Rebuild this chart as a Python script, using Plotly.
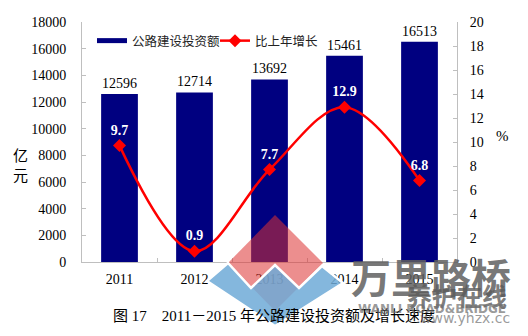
import plotly.graph_objects as go

years = ["2011", "2012", "2013", "2014", "2015"]
investment = [12596, 12714, 13692, 15461, 16513]
growth = [9.7, 0.9, 7.7, 12.9, 6.8]
growth_labels = ["9.7", "0.9", "7.7", "12.9", "6.8"]

W, H = 528, 336
L, R, T, B = 82, 457, 22, 262

def px(x):
    return (x - L) / (R - L)

def py(y):
    return (B - y) / (B - T)

SERIF = "Liberation Serif, Times New Roman, Noto Sans CJK SC"
CJK = "Noto Sans CJK SC, Liberation Serif"
AX = "#BFBFBF"

fig = go.Figure()
fig.add_trace(go.Bar(
    x=years, y=investment, name="公路建设投资额", showlegend=False,
    marker=dict(color="#000080", line=dict(width=0)),
    text=[str(v) for v in investment], textposition="outside",
    textfont=dict(family=SERIF, size=14, color="black"),
    cliponaxis=False, yaxis="y",
))
# legend proxy for bars (drawn as a thick line like the original)
fig.add_trace(go.Scatter(
    x=[None], y=[None], mode="lines", name="公路建设投资额", legend="legend",
    line=dict(color="#000080", width=5), yaxis="y",
))
fig.add_trace(go.Scatter(
    x=years, y=growth, name="比上年增长", mode="lines+markers+text", legend="legend2",
    line=dict(color="#FF0000", width=2.5, shape="spline", smoothing=1.0),
    marker=dict(symbol="diamond", size=10, color="#FF0000"),
    text=growth_labels, textposition="top center",
    textfont=dict(family=SERIF, size=14, color="white", weight="bold"),
    cliponaxis=False, yaxis="y2",
))

leg_common = dict(orientation="h", y=py(26), xanchor="left", yanchor="top",
                  font=dict(family=CJK, size=12.5, color="#222"),
                  bgcolor="rgba(0,0,0,0)", itemwidth=30)

fig.update_layout(
    width=W, height=H,
    margin=dict(l=L, r=W - R, t=T, b=H - B),
    paper_bgcolor="white", plot_bgcolor="white",
    bargap=0.51,
    showlegend=True,
    legend=dict(x=px(92), **leg_common),
    legend2=dict(x=px(215), **leg_common),
    xaxis=dict(type="category", showline=True, linecolor=AX, linewidth=1,
               ticks="inside", tickson="boundaries", ticklen=4, tickcolor=AX,
               showgrid=False, tickfont=dict(family=SERIF, size=14, color="black"),
               ticklabelstandoff=4),
    yaxis=dict(range=[0, 18000], dtick=2000, tickformat="d", showline=True, linecolor=AX,
               ticks="inside", ticklen=4, tickcolor=AX, showgrid=False, zeroline=False,
               tickfont=dict(family=SERIF, size=14, color="black"),
               ticklabelstandoff=12),
    yaxis2=dict(range=[0, 20], dtick=2, overlaying="y", side="right", showline=True,
                linecolor=AX, ticks="inside", ticklen=4, tickcolor=AX, showgrid=False,
                zeroline=False, tickfont=dict(family=SERIF, size=14, color="black"),
                ticklabelstandoff=9),
)

def note(x, y, text, font, **kw):
    fig.add_annotation(x=px(x), y=py(y), xref="paper", yref="paper", text=text,
                       showarrow=False, xanchor=kw.get("xanchor", "center"),
                       yanchor="middle", font=font)

# axis titles and caption
note(20, 164, "亿<br>元", dict(family=CJK, size=15, color="black"))
note(502, 136, "%", dict(family=SERIF, size=15, color="black"))
note(274, 316, "图 17　2011－2015 年公路建设投资额及增长速度",
     dict(family=SERIF, size=15, color="black"))

# watermark logo
def path(points):
    return "M " + " L ".join(f"{px(a)},{py(b)}" for a, b in points) + " Z"

fig.add_shape(type="path", xref="paper", yref="paper", layer="above",
              path=path([(275, 215), (323, 263), (275, 311), (228, 263)]),
              fillcolor="rgba(220,50,50,0.55)", line=dict(width=0))
fig.add_shape(type="path", xref="paper", yref="paper", layer="above",
              path=path([(207, 281), (228, 263), (251, 288), (275, 265), (299, 288),
                         (322, 266), (343, 283), (275, 326)]),
              fillcolor="rgba(110,170,215,0.85)", line=dict(width=2.5, color="white"))

note(431, 276, "万里路桥",
     dict(family="Noto Sans CJK SC", size=40, color="rgba(95,95,95,0.85)", weight="bold"))
note(457, 295, "养护在线",
     dict(family="Noto Sans CJK SC", size=25, color="rgba(90,90,90,0.8)", weight="bold"))
note(432, 309, "WANLI ROAD&BRIDGE",
     dict(family="DejaVu Sans", size=12, color="rgba(110,110,110,0.7)", weight="bold"))
note(512, 318, "www.yhzx.cc",
     dict(family="DejaVu Sans", size=14, color="rgba(110,110,110,0.7)"), xanchor="right")

fig.write_html("out.html")
